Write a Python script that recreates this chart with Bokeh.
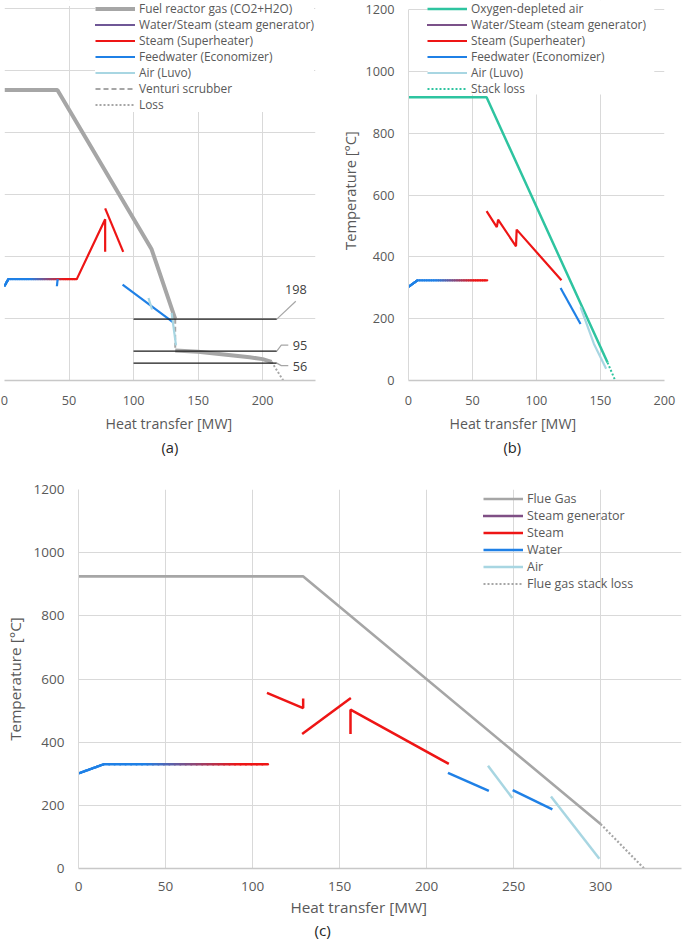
import numpy as np
from bokeh.plotting import figure
from bokeh.models import Range1d, FixedTicker, Legend, LegendItem, Title, ColumnDataSource, BoxAnnotation
from bokeh.layouts import column, row
from bokeh.embed import file_html
from bokeh.resources import INLINE
from bokeh.core.properties import value

FONT = "Open Sans"
TXT = "#595959"
GRID = "#D9D9D9"
AXIS = "#C8C8C8"
C_GAS = "#A6A6A6"
C_RED = "#EE1515"
C_BLUE = "#1F80E6"
C_AIR = "#A8D6E2"
C_TEAL = "#2EC4A0"

# ---------------- Panel (a) data ----------------
a_gas_x = [0, 41, 114, 132.3]
a_gas_y = [937, 937, 423, 199]
a_venturi_x = [132.3, 132.3]
a_venturi_y = [199, 97]
a_cond_x = [132.3, 150, 170, 190, 200, 207]
a_cond_y = [97, 93, 84, 75, 69, 60]
a_loss_x = [207, 216]
a_loss_y = [60, 0]
a_sg_x = [0, 3, 56]
a_sg_y = [305, 327, 327]
a_fw_x = [41.2, 40.6]
a_fw_y = [327, 304]
a_sh1_x = [56, 78, 78]
a_sh1_y = [327, 520, 415]
a_sh2_x = [78, 92]
a_sh2_y = [555, 415]
a_eco_x = [91.5, 130.5]
a_eco_y = [309, 188]
a_air1_x = [111.6, 114.3]
a_air1_y = [266, 229]
a_air2_x = [129.5, 132.9]
a_air2_y = [218, 113]
a_marks = [198, 95, 56]
a_mark_x0 = 100
a_mark_x1 = 211

# ---------------- Panel (b) data ----------------
b_air_x = [0, 61, 155.5]
b_air_y = [916, 916, 58]
b_loss_x = [155.5, 161.5]
b_loss_y = [58, 0]
b_sg_x = [0, 7, 61.5]
b_sg_y = [303, 324, 324]
b_sh_x = [61, 69, 70, 84, 84.5, 119.5]
b_sh_y = [548, 496, 520, 434, 488, 324]
b_eco_x = [118.8, 134.4]
b_eco_y = [299, 183]
b_luvo_x = [134.4, 144.8, 154.4]
b_luvo_y = [237, 119, 38]

# ---------------- Panel (c) data ----------------
c_gas_x = [0, 129, 300]
c_gas_y = [925, 925, 141]
c_loss_x = [300, 325]
c_loss_y = [141, 0]
c_sg_x = [0, 14.5, 108.8]
c_sg_y = [301, 330, 330]
c_st1_x = [108.3, 129.1, 129.1]
c_st1_y = [556, 508, 538]
c_st2_x = [128.5, 156.5]
c_st2_y = [426, 540]
c_st3_x = [156.3, 156.3, 212.8]
c_st3_y = [426, 503, 331]
c_w1_x = [212.3, 235.8]
c_w1_y = [303, 246]
c_w2_x = [249.5, 272.3]
c_w2_y = [248, 187]
c_air1_x = [235.3, 249.3]
c_air1_y = [325, 223]
c_air2_x = [271.5, 299.3]
c_air2_y = [228, 31]

Y_TICKS = [0, 200, 400, 600, 800, 1000, 1200]


def mix(c1, c2, f):
    a = [int(c1[i:i + 2], 16) for i in (1, 3, 5)]
    b = [int(c2[i:i + 2], 16) for i in (1, 3, 5)]
    return "#%02x%02x%02x" % tuple(int(round(a[k] + (b[k] - a[k]) * f)) for k in range(3))


def gradient_source(xs, ys, n=30, t0=0.35, t1=0.85):
    xs = np.asarray(xs, float)
    ys = np.asarray(ys, float)
    xmin, xmax = xs.min(), xs.max()
    d = dict(x0=[], y0=[], x1=[], y1=[], c=[])
    for i in range(len(xs) - 1):
        for k in range(n):
            fa, fb = k / n, (k + 1) / n
            xa = xs[i] + (xs[i + 1] - xs[i]) * fa
            xb = xs[i] + (xs[i + 1] - xs[i]) * fb
            ya = ys[i] + (ys[i + 1] - ys[i]) * fa
            yb = ys[i] + (ys[i + 1] - ys[i]) * fb
            t = ((xa + xb) / 2 - xmin) / (xmax - xmin)
            f = min(max((t - t0) / (t1 - t0), 0.0), 1.0)
            d["x0"].append(xa); d["x1"].append(xb)
            d["y0"].append(ya); d["y1"].append(yb)
            d["c"].append(mix(C_BLUE, C_RED, f))
    return ColumnDataSource(d)


def make_fig(width, height, xmax, ymax, bl, br, bt, bb, xticks, tick_size, show_y=True):
    p = figure(width=width, height=height, x_range=Range1d(0, xmax), y_range=Range1d(0, ymax),
               output_backend="svg", toolbar_location=None,
               min_border_left=bl, min_border_right=br, min_border_top=bt, min_border_bottom=bb)
    p.outline_line_color = None
    p.background_fill_color = "white"
    p.border_fill_color = "white"
    p.xaxis.ticker = FixedTicker(ticks=xticks)
    p.yaxis.ticker = FixedTicker(ticks=Y_TICKS)
    p.xgrid.ticker = FixedTicker(ticks=xticks)
    p.ygrid.ticker = FixedTicker(ticks=Y_TICKS)
    p.grid.grid_line_color = GRID
    p.grid.grid_line_width = 1
    for ax in (p.xaxis[0], p.yaxis[0]):
        ax.major_tick_line_color = None
        ax.minor_tick_line_color = None
        ax.major_label_text_font = FONT
        ax.major_label_text_font_size = tick_size
        ax.major_label_text_color = TXT
        ax.axis_label_text_font = FONT
        ax.axis_label_text_font_style = "normal"
        ax.axis_label_text_color = TXT
    p.xaxis.axis_line_color = AXIS
    p.xaxis.axis_line_width = 1.3
    p.yaxis.axis_line_color = GRID
    p.yaxis.bounds = (0, 1200)
    p.yaxis.major_tick_out = 0
    p.yaxis.major_tick_in = 0
    p.xaxis.major_label_standoff = 9
    p.yaxis.major_label_standoff = 14
    if not show_y:
        p.yaxis.visible = False
    if ymax > 1200:
        # blank strip above the top gridline (room for the legend)
        p.add_layout(BoxAnnotation(bottom=1200 + 2.5 * 1200 / 374.0, fill_color="white",
                                   fill_alpha=1.0, line_color=None))
    return p


def add_title(p, text, size, offset, valign, standoff, color=TXT):
    p.add_layout(Title(text=text, align="left", offset=offset, vertical_align=valign,
                       standoff=standoff, text_font=FONT, text_font_size=size,
                       text_font_style="normal", text_color=color), "below")


def make_legend(items, loc, size, gh, spacing=0, bg_alpha=1.0):
    return Legend(items=items, location=loc, orientation="vertical",
                  label_text_font=FONT, label_text_font_size=size, label_text_color=TXT,
                  glyph_width=40, glyph_height=gh, label_height=gh, label_standoff=4,
                  spacing=spacing, padding=0, margin=0, border_line_color=None,
                  background_fill_color="white", background_fill_alpha=bg_alpha)


# ======================= Figure (a) =======================
pa = make_fig(336, 460, 241, 1200 * 382 / 374.0, 4, 21, 0, 78, [0, 50, 100, 150, 200], "12.7px", show_y=False)
r_a_gas = pa.line(a_gas_x, a_gas_y, line_color=C_GAS, line_width=4)
pa.line(a_cond_x, a_cond_y, line_color=C_GAS, line_width=4)
r_a_ven = pa.line(a_venturi_x, a_venturi_y, line_color=C_GAS, line_width=2, line_dash="5 3")
r_a_loss = pa.line(a_loss_x, a_loss_y, line_color=C_GAS, line_width=2, line_dash="2 2")
src_a = gradient_source(a_sg_x, a_sg_y)
r_a_sg = pa.segment("x0", "y0", "x1", "y1", source=src_a, line_color="c", line_width=2.2, line_cap="round")
pa.line(a_fw_x, a_fw_y, line_color=C_BLUE, line_width=2.2)
r_a_sh = pa.line(a_sh1_x, a_sh1_y, line_color=C_RED, line_width=2.2)
pa.line(a_sh2_x, a_sh2_y, line_color=C_RED, line_width=2.2)
r_a_eco = pa.line(a_eco_x, a_eco_y, line_color=C_BLUE, line_width=2.2)
r_a_air = pa.line(a_air1_x, a_air1_y, line_color=C_AIR, line_width=2.2)
pa.line(a_air2_x, a_air2_y, line_color=C_AIR, line_width=2.2)

# temperature marker lines with callouts
n = len(a_marks)
pa.segment(x0=[a_mark_x0] * n, y0=a_marks, x1=[a_mark_x1] * n, y1=a_marks, line_color="#1a1a1a", line_width=1.3)
px_x = 241 / 311.0
px_y = 1200 / 374.0
lead = ColumnDataSource(dict(
    xs=[[a_mark_x1, a_mark_x1 + 19 * px_x],
        [a_mark_x1, a_mark_x1 + 4.5 * px_x, a_mark_x1 + 11.5 * px_x],
        [a_mark_x1, a_mark_x1 + 4.5 * px_x, a_mark_x1 + 11.5 * px_x]],
    ys=[[a_marks[0], a_marks[0] + 18 * px_y],
        [a_marks[1], a_marks[1] + 6 * px_y, a_marks[1] + 6 * px_y],
        [a_marks[2], a_marks[2] - 2.5 * px_y, a_marks[2] - 2.5 * px_y]]))
pa.multi_line("xs", "ys", source=lead, line_color="#A6A6A6", line_width=1.2)
pa.text(x=[a_mark_x1], y=[a_marks[0]], text=[str(a_marks[0])], x_offset=19, y_offset=-30,
        text_align="center", text_baseline="middle", text_font=value(FONT),
        text_font_size="12.7px", text_color="#404040")
pa.text(x=[a_mark_x1] * 2, y=a_marks[1:], text=[str(v) for v in a_marks[1:]], x_offset=16,
        y_offset=[-6, 3.5], text_align="left", text_baseline="middle", text_font=value(FONT),
        text_font_size="12.7px", text_color="#404040")

leg_a = make_legend([
    LegendItem(label="Fuel reactor gas (CO2+H2O)", renderers=[r_a_gas]),
    LegendItem(label="Water/Steam (steam generator)", renderers=[r_a_sg], index=45),
    LegendItem(label="Steam (Superheater)", renderers=[r_a_sh]),
    LegendItem(label="Feedwater (Economizer)", renderers=[r_a_eco]),
    LegendItem(label="Air (Luvo)", renderers=[r_a_air]),
    LegendItem(label="Venturi scrubber", renderers=[r_a_ven]),
    LegendItem(label="Loss", renderers=[r_a_loss]),
], (91, 268), "11.9px", 15, spacing=-1)
pa.add_layout(leg_a)
add_title(pa, "Heat transfer [MW]", "14.2px", 101, "bottom", 8)
add_title(pa, "(a)", "14.7px", 157, "top", 0, color="#262626")

# ======================= Figure (b) =======================
pb = make_fig(349, 460, 200, 1200 * 380 / 371.0, 72, 21, 0, 80, [0, 50, 100, 150, 200], "12.7px")
pb.yaxis.axis_label = "Temperature [°C]"
pb.yaxis.axis_label_text_font_size = "14.7px"
pb.yaxis.axis_label_standoff = 2
r_b_air = pb.line(b_air_x, b_air_y, line_color=C_TEAL, line_width=2.5)
r_b_loss = pb.line(b_loss_x, b_loss_y, line_color=C_TEAL, line_width=2, line_dash="2 2")
src_b = gradient_source(b_sg_x, b_sg_y)
r_b_sg = pb.segment("x0", "y0", "x1", "y1", source=src_b, line_color="c", line_width=2.2, line_cap="round")
r_b_sh = pb.line(b_sh_x, b_sh_y, line_color=C_RED, line_width=2.2)
r_b_eco = pb.line(b_eco_x, b_eco_y, line_color=C_BLUE, line_width=2.2)
r_b_luvo = pb.line(b_luvo_x, b_luvo_y, line_color=C_AIR, line_width=2.2)
# white backing behind the legend block (kept above the flat air line)
pb.add_layout(BoxAnnotation(left=15, right=192, bottom=925, fill_color="white",
                            fill_alpha=1.0, line_color=None))
leg_b = make_legend([
    LegendItem(label="Oxygen-depleted air", renderers=[r_b_air]),
    LegendItem(label="Water/Steam (steam generator)", renderers=[r_b_sg], index=45),
    LegendItem(label="Steam (Superheater)", renderers=[r_b_sh]),
    LegendItem(label="Feedwater (Economizer)", renderers=[r_b_eco]),
    LegendItem(label="Air (Luvo)", renderers=[r_b_luvo]),
    LegendItem(label="Stack loss", renderers=[r_b_loss]),
], (19, 284), "11.9px", 15, spacing=-1, bg_alpha=0.0)
pb.add_layout(leg_b)
add_title(pb, "Heat transfer [MW]", "14.2px", 41, "bottom", 8)
add_title(pb, "(b)", "14.7px", 95, "top", 0, color="#262626")

# ======================= Figure (c) =======================
pc = make_fig(685, 486, 346.5, 1200, 78, 4, 29, 78, [0, 50, 100, 150, 200, 250, 300], "13.5px")
pc.xaxis.major_label_standoff = 7
pc.yaxis.axis_label = "Temperature [°C]"
pc.yaxis.axis_label_text_font_size = "15.3px"
pc.yaxis.axis_label_standoff = 6
r_c_gas = pc.line(c_gas_x, c_gas_y, line_color=C_GAS, line_width=2.6)
r_c_loss = pc.line(c_loss_x, c_loss_y, line_color=C_GAS, line_width=2.2, line_dash="2 2")
src_c = gradient_source(c_sg_x, c_sg_y)
r_c_sg = pc.segment("x0", "y0", "x1", "y1", source=src_c, line_color="c", line_width=2.4, line_cap="round")
r_c_st = pc.line(c_st1_x, c_st1_y, line_color=C_RED, line_width=2.5)
pc.line(c_st2_x, c_st2_y, line_color=C_RED, line_width=2.5)
pc.line(c_st3_x, c_st3_y, line_color=C_RED, line_width=2.5)
r_c_w = pc.line(c_w1_x, c_w1_y, line_color=C_BLUE, line_width=2.5)
pc.line(c_w2_x, c_w2_y, line_color=C_BLUE, line_width=2.5)
r_c_air = pc.line(c_air1_x, c_air1_y, line_color=C_AIR, line_width=2.5)
pc.line(c_air2_x, c_air2_y, line_color=C_AIR, line_width=2.5)
leg_c = make_legend([
    LegendItem(label="Flue Gas", renderers=[r_c_gas]),
    LegendItem(label="Steam generator", renderers=[r_c_sg], index=45),
    LegendItem(label="Steam", renderers=[r_c_st]),
    LegendItem(label="Water", renderers=[r_c_w]),
    LegendItem(label="Air", renderers=[r_c_air]),
    LegendItem(label="Flue gas stack loss", renderers=[r_c_loss]),
], (405, 276), "12.5px", 17, bg_alpha=0.0)
pc.add_layout(leg_c)
add_title(pc, "Heat transfer [MW]", "15.3px", 212, "bottom", 3)
add_title(pc, "(c)", "15.3px", 236, "top", 3, color="#262626")

layout = column(row(pa, pb, spacing=0), pc, spacing=0)
open("out.html", "w").write(file_html(layout, INLINE))
